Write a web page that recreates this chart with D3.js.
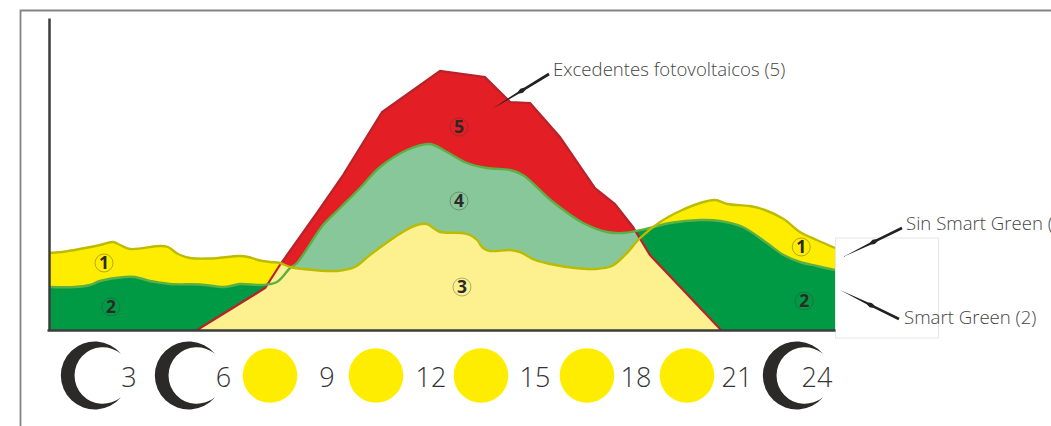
<!DOCTYPE html>
<html><head><meta charset="utf-8">
<script src="https://cdn.jsdelivr.net/npm/d3@7/dist/d3.min.js"></script>
<style>html,body{margin:0;padding:0;background:#fff;overflow:hidden}svg{display:block}text{font-family:"Open Sans",sans-serif}</style>
</head><body><svg id="c" width="1051" height="426"></svg>
<script>
// Demand without Smart Green (1)
const hoursBase=[0,.40,1.10,1.56,1.95,2.17,2.47,3.39,3.63,3.94,4.31,4.92,5.83,6.08,6.38,6.75,7.05,7.36,7.76,8.79,9.34,9.80,10.80,11.23,11.54,11.73,11.94,12.61,12.85,13.07,13.25,13.47,14.08,14.38,14.84,15.30,16.06,16.67,17.19,17.59,18.05,18.66,19.27,19.88,20.34,20.70,21.40,21.86,22.43,22.93,23.44,24];
const valuesBase=[77,78,82,85,88,85,81,84,83,76,72,71.5,74,73,70,68,67,63,61,59,63,75,98,105,106,102,98,97,95,90,82,79,80,78,70,66,62,61,64,75,92,108,119,127,130,126,124,120,111,98,90,82];
// Demand with Smart Green (2)
const hoursSmart=[0,.79,1.25,1.56,2.32,2.63,3.08,3.69,4.61,5.37,5.83,6.50,6.96,7.36,7.57,8.37,8.89,9.50,10.11,10.93,11.63,12.15,12.76,13.37,14.08,14.47,15.39,16.31,17.04,17.53,18.35,18.96,19.88,20.49,21.18,21.92,22.43,22.93,23.44,24];
const valuesSmart=[43,43,45,49,53,53,49,46,45.5,43,46,45,48,62,67,105,122,142,163,180,186,178,167,162,160,155,128,107,98,97,102,107,110,109,103,87,75,68,64,60];
// Photovoltaic generation
const hoursPV=[4.52,6.60,7.05,8.18,8.98,10.17,11.94,13.31,14.08,14.69,15.60,16.67,17.28,17.83,18.35,20.52];
const valuesPV=[0,42,65,117,155,218,259,253,228,227,193,142,126,103,75,0];
const tickLabels=[3,6,9,12,15,18,21,24];
const tickIcons=["moon","moon","sun","sun","sun","sun","sun","moon"];

const W=1051,H=426,x0=49,x1=835,yB=330,yT=18;
const svg=d3.select("#c");
const x=d3.scaleLinear().domain([0,24]).range([x0,x1]);
const y=d3.scaleLinear().domain([0,312]).range([yB,yT]);
const tickPos=d3.scaleOrdinal().domain(tickLabels).range([129,223.5,327,431,535,636,737,817]);
const iconPos=d3.scaleOrdinal().domain(tickLabels).range([59,153,270,376,481,587,687,761]);

// frame
svg.append("path").attr("d","M20.5,426V10.5H1051").attr("fill","none").attr("stroke","#848484").attr("stroke-width",1.8);

const zip=(h,v)=>h.map((d,i)=>[d,v[i]]);
const area=c=>d3.area().x(d=>x(d[0])).y0(y(0)).y1(d=>y(d[1])).curve(c);
const line=c=>d3.line().x(d=>x(d[0])).y(d=>y(d[1])).curve(c);
const smooth=d3.curveCatmullRom.alpha(.5),sharp=d3.curveLinear;
const base=zip(hoursBase,valuesBase),smart=zip(hoursSmart,valuesSmart),pv=zip(hoursPV,valuesPV);

svg.append("clipPath").attr("id","pvClip").append("path").attr("d",area(sharp)(pv));
// outside PV
svg.append("path").attr("d",area(smooth)(base)).attr("fill","#ffed00");
svg.append("path").attr("d",area(smooth)(smart)).attr("fill","#009a44");
// inside PV
const g=svg.append("g").attr("clip-path","url(#pvClip)");
g.append("path").attr("d",area(sharp)(pv)).attr("fill","#e31e24");
g.append("path").attr("d",area(smooth)(smart)).attr("fill","#88c799");
g.append("path").attr("d",area(smooth)(base)).attr("fill","#fdf08f");

svg.append("path").attr("d",line(sharp)(pv)).attr("fill","none").attr("stroke","#b5242a").attr("stroke-width",2.2);
svg.append("path").attr("d",line(smooth)(smart)).attr("fill","none").attr("stroke","#5bb044").attr("stroke-width",2.4);
svg.append("path").attr("d",line(smooth)(base)).attr("fill","none").attr("stroke","#bdbb00").attr("stroke-width",2.4);

// white panel
svg.append("rect").attr("x",835.5).attr("y",238).attr("width",103).attr("height",100).attr("fill","#fff").attr("stroke","#e6e6e6");

// axes
const yAx=svg.append("g").attr("transform",`translate(${x0},0)`).call(d3.axisLeft(y).tickValues([]).tickSizeOuter(0));
yAx.select(".domain").attr("stroke","#3c3c3c").attr("stroke-width",2.5);
const xAx=svg.append("g").attr("transform",`translate(0,${yB})`).call(d3.axisBottom(d3.scaleLinear().domain([0,24]).range([x0-2,x1])).tickValues([]).tickSizeOuter(0));
xAx.select(".domain").attr("stroke","#3c3c3c").attr("stroke-width",2.5);

// hour icons
const cy=375.5;
tickLabels.forEach((t,i)=>{
  if(tickIcons[i]==="sun"){
    svg.append("circle").attr("cx",iconPos(t)).attr("cy",cy).attr("r",27.3).attr("fill","#ffed00");
  }else{
    const l=iconPos(t),tx=l+62,dy=21.7;
    svg.append("path").attr("d",`M${tx},${cy-dy}A34,34 0 1 0 ${tx},${cy+dy}A28.3,28.3 0 1 1 ${tx},${cy-dy}Z`).attr("fill","#2b2a29");
  }
  svg.append("text").attr("x",tickPos(t)).attr("y",387).attr("text-anchor","middle").attr("font-size",27).attr("font-weight",350).attr("fill","#333").text(t);
});

// circled numbers
const badgeNums=[1,2,3,4,5,1,2];
const badgeH=[1.68,1.89,12.61,12.52,12.52,22.97,23.06];
const badgeV=[67,23,43,129,203,83,29];
badgeNums.forEach((n,i)=>{
  const bx=x(badgeH[i]),by=y(badgeV[i]);
  svg.append("circle").attr("cx",bx).attr("cy",by).attr("r",9).attr("fill","none").attr("stroke","#3a3a3a").attr("stroke-opacity",.65).attr("stroke-width",.6);
  svg.append("text").attr("x",bx).attr("y",by+6.3).attr("text-anchor","middle").attr("font-size",17.5).attr("font-weight",700).attr("fill","#2b2a29").text(n);
});

// annotations
const labels=[["Excedentes fotovoltaicos (5)",553,76],["Sin Smart Green (1)",906,230],["Smart Green (2)",904,324]];
labels.forEach(d=>svg.append("text").attr("x",d[1]).attr("y",d[2]).attr("font-size",18.6).attr("font-weight",300).attr("fill","#444").text(d[0]));
const arrows=[[549,74,492,109],[902,228,843,257],[899,319,840,290]];
arrows.forEach(([a,b,c,d])=>{
  const L=Math.hypot(c-a,d-b),ux=(c-a)/L,uy=(d-b)/L,nx=-uy,ny=ux;
  const p=(t,w)=>[a+ux*L*t+nx*w,b+uy*L*t+ny*w].join(",");
  svg.append("path").attr("d",`M${p(0,1.4)}L${p(.42,1.3)}L${p(.48,2.4)}L${p(.54,1.1)}L${p(1,0)}L${p(.54,-1.1)}L${p(.48,-2.4)}L${p(.42,-1.3)}L${p(0,-1.4)}Z`).attr("fill","#222");
});
</script></body></html>
